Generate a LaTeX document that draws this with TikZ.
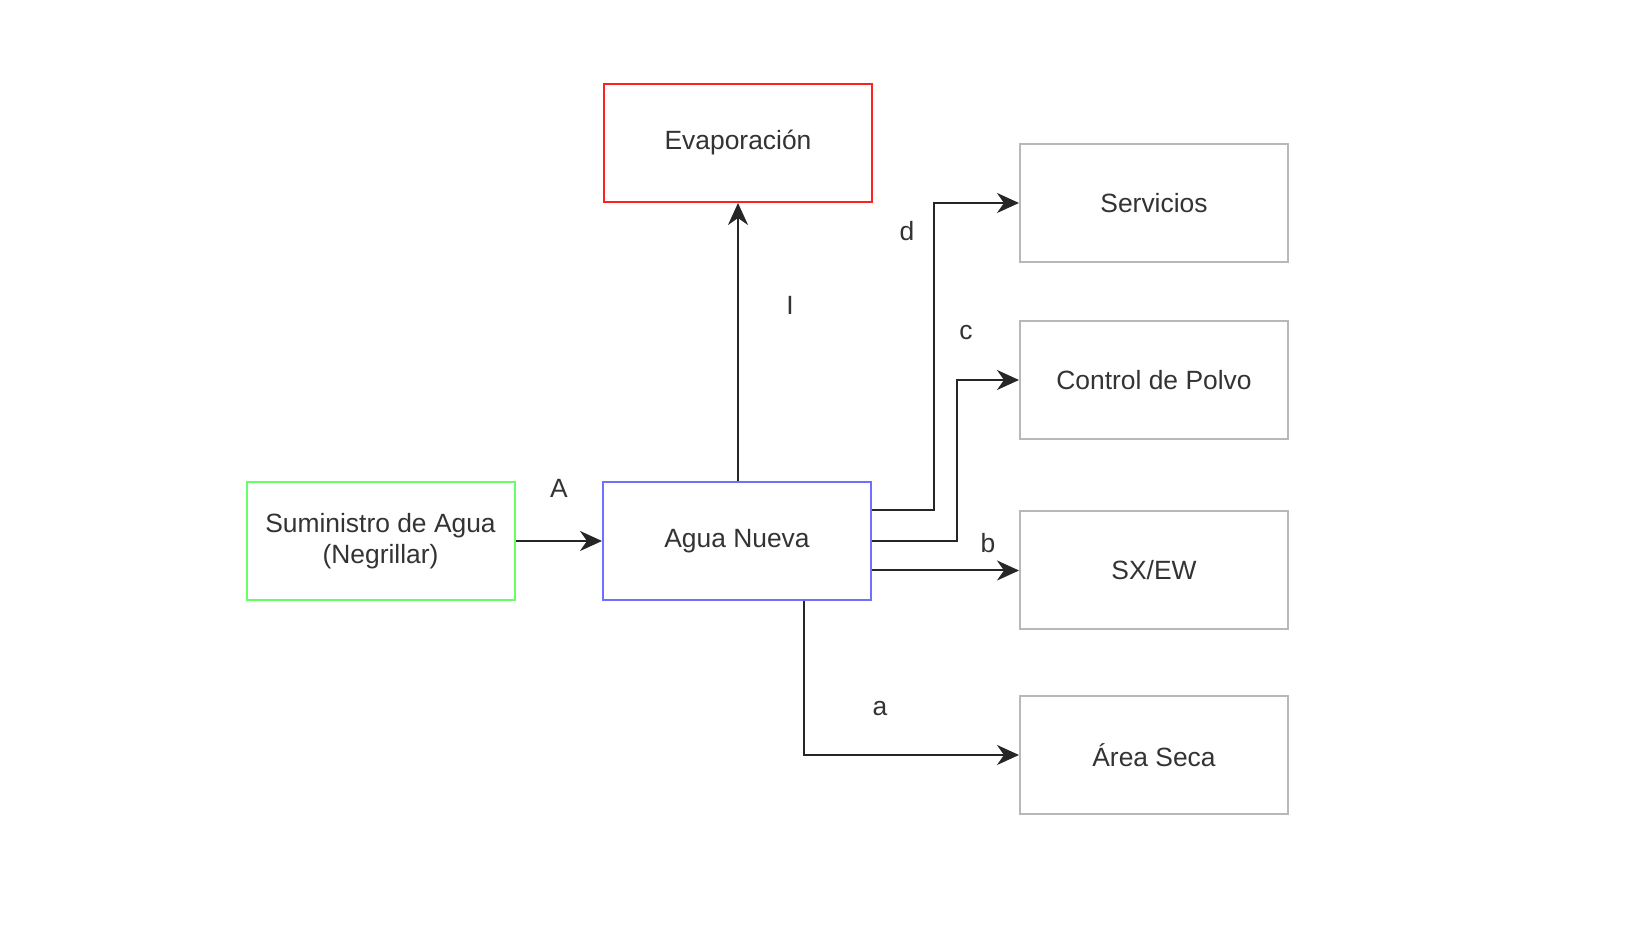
\documentclass[tikz,border=0pt]{standalone}
\usepackage{fontspec}
\setmainfont{Liberation Sans}
\usetikzlibrary{arrows.meta}
\definecolor{txt}{HTML}{333333}
\definecolor{grayb}{HTML}{B8B8B8}
\definecolor{redb}{HTML}{FF2020}
\definecolor{greenb}{HTML}{66FF66}
\definecolor{blueb}{HTML}{7070FF}
\begin{document}
\begin{tikzpicture}[x=0.5pt,y=-0.5pt,
  box/.style={draw=grayb, line width=1pt, minimum width=134pt, minimum height=59pt, inner sep=0pt, align=center, text=txt, font=\fontsize{13.2}{15.5}\selectfont},
  conn/.style={line width=1pt, draw=black!85, -{Stealth[length=11pt,width=10pt,inset=3.5pt]}},
  lbl/.style={text=txt, font=\fontsize{13.2}{15.5}\selectfont, inner sep=0pt}]
\useasboundingbox (0,0) rectangle (1640,929);
\fill[white] (0,0) rectangle (1640,929);
\node[box, draw=redb] (evap) at (738,143) {Evaporación};
\node[box, draw=greenb] (sum) at (380.5,541) {Suministro de Agua\\(Negrillar)};
\node[box, draw=blueb] (agua) at (737,541) {Agua Nueva};
\node[box] (serv) at (1154,203) {Servicios};
\node[box] (ctrl) at (1154,380) {Control de Polvo};
\node[box] (sxew) at (1154,570.5) {SX/EW};
\node[box] (area) at (1154,755) {Área Seca};
\draw[conn] (sum) -- (agua);
\draw[conn] ([xshift=0.5pt]agua.north) -- ([xshift=0.5pt]agua.north |- evap.south);
\draw[conn] ([yshift=15.5pt]agua.east) -| ++(62,0) |- (serv.west);
\draw[conn] (agua.east) -| ++(85,0) |- (ctrl.west);
\draw[conn] ([yshift=-14.75pt]agua.east) -- (sxew.west);
\draw[conn] ([xshift=33.5pt]agua.south) |- (area.west);
\node[lbl] (lA) at (559,488) {A};
\node[lbl] (lI) at (790,305) {I};
\node[lbl] (ld) at (907,231) {d};
\node[lbl] (lc) at (966,333) {c};
\node[lbl] (lb) at (988,543) {b};
\node[lbl] (la) at (880,709) {a};
\end{tikzpicture}
\end{document}
